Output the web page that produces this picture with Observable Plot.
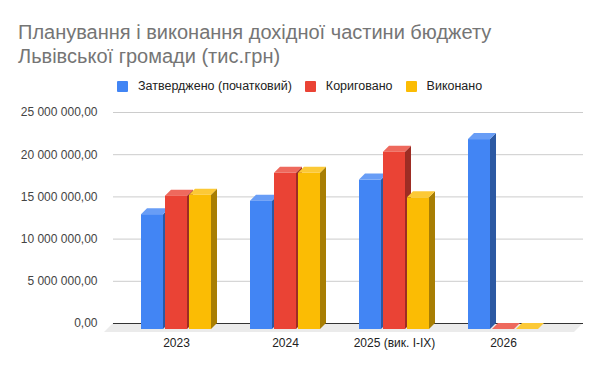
<!DOCTYPE html>
<html><head><meta charset="utf-8">
<script src="https://cdn.jsdelivr.net/npm/d3@7"></script>
<script src="https://cdn.jsdelivr.net/npm/@observablehq/plot@0.6"></script>
<style>
body{margin:0;background:#fff;font-family:"Liberation Sans",Arial,sans-serif;}
#wrap{position:relative;width:600px;height:371px;overflow:hidden}
#title{position:absolute;left:18px;top:20px;font-size:20px;line-height:24px;color:#757575;white-space:pre;}
#legend{position:absolute;left:117px;top:78px;display:flex;font-size:12.5px;color:#222;line-height:16px}
.item{display:flex;align-items:center;margin-right:13px}
.sw{width:11px;height:11px;margin-right:10px;border-radius:1px}
#chart{position:absolute;left:0;top:100px}
</style></head>
<body><div id="wrap"><div id="title"></div><div id="legend"></div><div id="chart"></div></div>
<script>
const title = "Планування і виконання дохідної частини бюджету\nЛьвівської громади (тис.грн)";
const years = ["2023", "2024", "2025 (вик. I-IX)", "2026"];
const series = ["Затверджено (початковий)", "Кориговано", "Виконано"];
const colors = ["#4285f4", "#ea4335", "#fbbc04"];
const approved = [13.6e6, 15.2e6, 17.7e6, 22.5e6];
const corrected = [15.8e6, 18.5e6, 21.0e6, 0];
const executed = [15.9e6, 18.5e6, 15.6e6, 0];
const yTicks = [0, 5e6, 10e6, 15e6, 20e6, 25e6];

const valuesBySeries = [approved, corrected, executed];
const data = years.flatMap((yr, i) => series.map((s, j) => ({year: yr, series: s, value: valuesBySeries[j][i]})));

document.getElementById("title").textContent = title;
const legend = document.getElementById("legend");
series.forEach((s, j) => {
  const it = document.createElement("div"); it.className = "item";
  const sw = document.createElement("div"); sw.className = "sw"; sw.style.background = colors[j];
  const t = document.createElement("span"); t.textContent = s;
  it.append(sw, t); legend.append(it);
});

const depth = 6;
const fmt = d3.formatLocale({decimal: ",", thousands: " ", grouping: [3], currency: ["", ""]}).format(",.2f");
const poly = pts => pts.map(p => p.join(",")).join(" ");

function floorRender(index, scales, values, dimensions) {
  const {width, marginLeft, marginRight} = dimensions;
  const y0 = scales.y(0);
  const g = d3.create("svg:g");
  g.append("polygon")
    .attr("points", poly([[marginLeft - 3, y0 + 3], [width - marginRight - 3, y0 + 3], [width - marginRight + depth, y0 - depth], [marginLeft + depth, y0 - depth]]))
    .attr("fill", "#ebebeb");
  return g.node();
}

function bars3d(index, scales, values) {
  const groupWidth = scales.x.bandwidth ? scales.x.bandwidth() : scales.scales.x.bandwidth;
  const sub = d3.scaleBand().domain(series).range([0, groupWidth]).paddingInner(0.083).paddingOuter(0);
  const bw = sub.bandwidth();
  const g = d3.create("svg:g");
  for (const i of index) {
    const x0 = scales.x(data[i].year) + sub(data[i].series), x1 = x0 + bw;
    const yt = Math.min(values.y1[i], values.y2[i]), yb = Math.max(values.y1[i], values.y2[i]);
    const c = values.fill[i];
    const dark = d3.interpolateRgb(c, "black")(0.33);
    const light = d3.interpolateRgb(c, "white")(0.2);
    g.append("polygon").attr("points", poly([[x1, yt], [x1 + depth, yt - depth], [x1 + depth, yb - depth], [x1, yb]])).attr("fill", dark);
    g.append("polygon").attr("points", poly([[x0, yt], [x1, yt], [x1 + depth, yt - depth], [x0 + depth, yt - depth]])).attr("fill", light);
    g.append("rect").attr("x", x0).attr("y", yt).attr("width", bw).attr("height", yb - yt).attr("fill", c);
  }
  return g.node();
}

const chart = Plot.plot({
  width: 600, height: 271,
  marginLeft: 107, marginRight: 23, marginTop: 18, marginBottom: 42,
  style: {fontFamily: "Liberation Sans, Arial, sans-serif", fontSize: "12px", background: "white", color: "#222"},
  x: {domain: years, paddingInner: 0.362, paddingOuter: 0.324, align: 0.465, label: null, axis: "bottom", tickSize: 0, tickPadding: 9},
  y: {domain: [0, 25e6], axis: null},
  color: {domain: series, range: colors},
  marks: [
    Plot.ruleY([0], {render: floorRender}),
    Plot.ruleY(yTicks.slice(1), {dx: depth, dy: -depth, stroke: "#ccc", strokeOpacity: 1}),
    Plot.ruleY([0], {dx: depth, dy: -depth, stroke: "#333", strokeOpacity: 1}),
    Plot.text(yTicks, {y: d => d, text: d => fmt(d), frameAnchor: "left", textAnchor: "end", dx: -10, dy: -depth, fill: "#444"}),
    Plot.barY(data, {x: "year", y1: 0, y2: "value", fill: "series", render: bars3d})
  ]
});
document.getElementById("chart").append(chart);
</script>
</body></html>
